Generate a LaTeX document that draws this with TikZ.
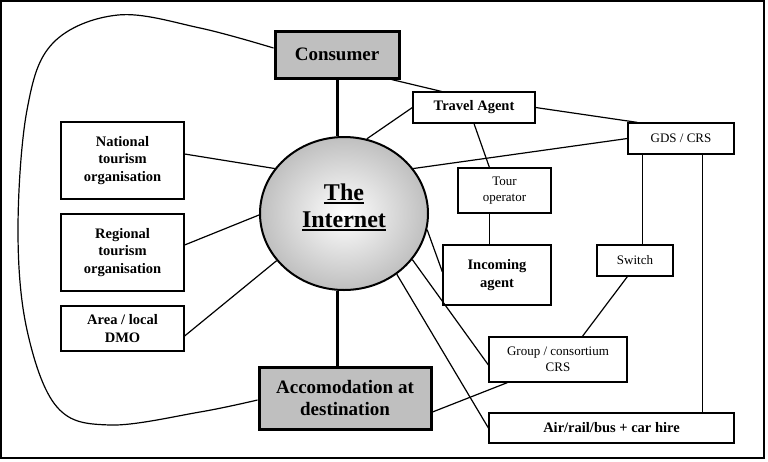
\documentclass[tikz,border=0pt]{standalone}
\usepackage{fontspec}
\setmainfont{Liberation Serif}
\usetikzlibrary{shapes.geometric}

\newcommand{\thickul}[1]{\leavevmode\setbox0=\hbox{#1}\rlap{\copy0}\rule[-3.5pt]{\wd0}{1.8pt}}

\begin{document}
\begin{tikzpicture}[x=1pt, y=-1pt,
		plainbox/.style={draw, line width=1.2pt, fill=white, inner sep=0pt, align=center, font=\fontsize{13}{15.5}\selectfont},
		boldbox/.style={plainbox, font=\fontsize{14.5}{17.5}\selectfont\bfseries},
		heavybox/.style={draw, line width=3pt, fill=black!25, inner sep=0pt, align=center, font=\fontsize{19}{22}\selectfont\bfseries},
		link/.style={line width=1.2pt},
		spoke/.style={line width=3pt}]

	\useasboundingbox (0,0) rectangle (768,461);
	\draw [line width=1.5pt] (1,1) rectangle (764,458);

	% the hub
	\node [ellipse, draw, line width=2pt, minimum width=168, minimum height=153, inner sep=0pt,
		shading=radial, inner color=white, outer color=black!25,
		label={[yshift=6pt, align=center, font=\fontsize{24}{29}\selectfont\bfseries]center:{\thickul{The}\\[-2pt]\thickul{Internet}}}] (net) at (344,213.5) {};

	\node [heavybox, minimum width=124, minimum height=47] (consumer) at (337,54.5) {Consumer};
	\node [heavybox, minimum width=172, minimum height=62] (acc) at (345,398) {Accomodation at\\destination};

	% left column
	\node [boldbox, minimum width=123, minimum height=77] (national) at (122.5,160.5) {National\\tourism\\organisation};
	\node [boldbox, minimum width=123, minimum height=77] (regional) at (122.5,252.5) {Regional\\tourism\\organisation};
	\node [boldbox, minimum width=123, minimum height=45] (dmo) at (122.5,328.5) {Area / local\\DMO};

	% trade side
	\node [boldbox, minimum width=122, minimum height=31] (travel) at (474,107.5) {Travel Agent};
	\node [plainbox, minimum width=106, minimum height=31] (gds) at (681,138.5) {GDS / CRS};
	\node [plainbox, minimum width=93, minimum height=45] (tour) at (504.5,190.5) {Tour\\operator};
	\node [boldbox, minimum width=108, minimum height=60] (incoming) at (497,275) {Incoming\\agent};
	\node [plainbox, minimum width=76, minimum height=31] (switch) at (635,260.5) {Switch};
	\node [plainbox, minimum width=138, minimum height=45] (group) at (558,359.5) {Group / consortium\\CRS};
	\node [boldbox, minimum width=245, minimum height=30] (air) at (611.5,428) {Air/rail/bus + car hire};

	\coordinate (tourfoot) at ([xshift=32pt]tour.south west);
	\coordinate (gdsleft) at ([xshift=15pt]gds.south west);
	\coordinate (gdsright) at ([xshift=75pt]gds.south west);

	\begin{scope}[spoke]
		\draw (consumer.south) -- (consumer.south |- net.north);
		\draw (consumer.south |- net.south) -- (consumer.south |- acc.north);
	\end{scope}

	\begin{scope}[link]
		\draw ([xshift=-9pt]consumer.south east) -- ([xshift=29pt]travel.north west);
		\draw (travel.west) -- (net.73);
		\draw (travel.east) -- ([xshift=10pt]gds.north west);
		\draw (gds.west) -- (net.33);
		\draw (travel.south) -- ([xshift=32pt]tour.north west);
		\draw (tourfoot) -- (tourfoot |- incoming.north);
		\draw (gdsleft) -- (gdsleft |- switch.north);
		\draw (gdsright) -- (gdsright |- air.north);
		\draw ([xshift=31pt]switch.south west) -- ([xshift=94pt]group.north west);
		\draw ([xshift=19pt]group.south west) -- ([yshift=-14pt]acc.east);
		\draw ([yshift=6.5pt]national.east) -- (net.147);
		\draw ([yshift=7.5pt]regional.east) -- (net.181);
		\draw ([yshift=-7.5pt]dmo.east) -- (net.215);
		\draw ([yshift=3pt]incoming.west) -- (net.-11);
		\draw ([yshift=-5.5pt]group.west) -- (net.-34);
		\draw (air.west) -- (net.-49);
		\draw plot [smooth, tension=0.6] coordinates {([yshift=6.5pt]consumer.west) (200,28) (118,15) (53,43) (27,110) (18,230) (27,330) (57,407) (110,425) (200,412) ([yshift=-2pt]acc.west)};
	\end{scope}

\end{tikzpicture}
\end{document}
